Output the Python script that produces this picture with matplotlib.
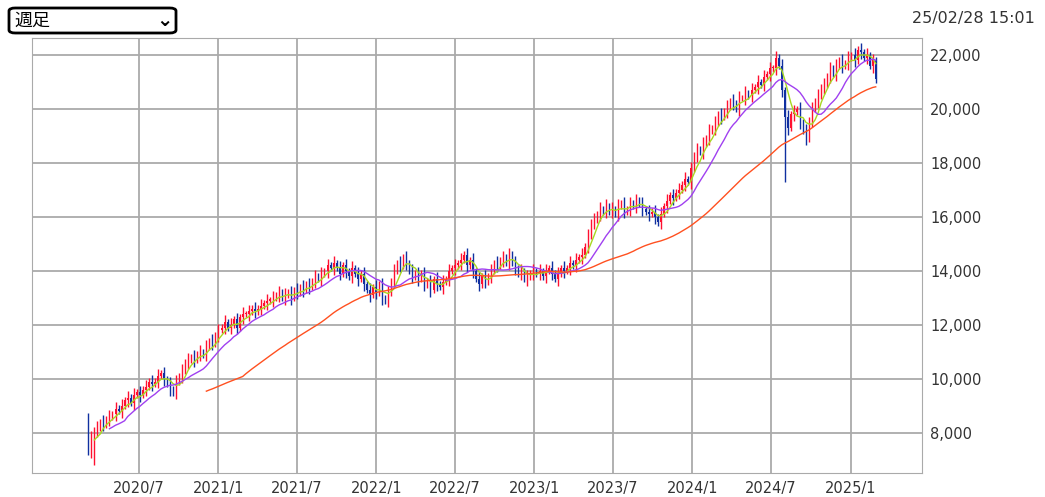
import matplotlib
matplotlib.use("Agg")
import matplotlib.pyplot as plt
import matplotlib.dates as mdates
from matplotlib.patches import FancyBboxPatch
import numpy as np
import pandas as pd

plt.rcParams['font.family'] = ['Noto Sans CJK JP', 'DejaVu Sans']

start_date = "2020-03-06"
closes = [
 # 2020 Mar-Dec
 7300, 7800, 8100,
 8200, 8400, 8300, 8500, 8600,
 8700, 8900, 8800, 9000, 9200,
 9300, 9100, 9400, 9500,
 9400, 9600, 9700, 9900, 9800,
 9900, 10100, 10200, 10000,
 9800, 9600, 9500, 9900,
 10100, 10300, 10600, 10700, 10800,
 10700, 10900, 11000, 10900,
 # 2021
 11200, 11400, 11300, 11600,
 11800, 11900, 12100, 11900,
 12000, 12200, 11900, 12300, 12400,
 12400, 12500, 12600, 12500,
 12600, 12700, 12800, 12900,
 12900, 13000, 13100, 13200, 13000,
 13100, 13200, 13000, 13300,
 13200, 13400, 13300, 13500,
 13400, 13600, 13800, 13700, 13900,
 14000, 14200, 14100, 14300,
 14100, 13900, 14200, 14000,
 13800, 14100, 13900, 13700, 13900,
 # 2022
 13500, 13300, 13100, 13400,
 13200, 13500, 13000, 12900,
 13200, 13600, 14000, 14300, 14200,
 14500, 14300, 14000, 13800, 13900,
 13700, 13900, 13500, 13600,
 13300, 13700, 13500, 13400, 13600,
 13700, 14000, 14100, 14200,
 14300, 14400, 14600, 14200, 14400,
 14000, 13700, 13500, 13800, 13600,
 13800, 14000, 14300, 14200,
 14400, 14500, 14300, 14600,
 14300, 14100, 13900, 14000, 13700,
 # 2023
 13800, 13900, 14000, 13900,
 14000, 13800, 14000, 14100,
 13900, 13700, 13900, 14100, 14000,
 14100, 14300, 14200, 14400, 14500,
 14600, 14900, 15300, 15800,
 15900, 16100, 16300, 16200, 16400,
 16200, 16300, 16100, 16400, 16500,
 16200, 16300, 16500, 16400, 16600,
 16500, 16300, 16200, 16100,
 16200, 16000, 15800, 16100, 16400,
 16600, 16800, 16700, 16900,
 17000, 17200, 17400, 17300,
 # 2024
 17800, 18300, 18500, 18400, 18700,
 18900, 19200, 19300, 19500,
 19800, 19700, 19900, 20100,
 20300, 20200, 20000, 20400,
 20400, 20600, 20500, 20700, 20800,
 21000, 20900, 21200, 21300, 21500,
 21500, 21900, 21600, 20700,
 19700, 19300, 19800, 19900, 20000,
 19500, 19200, 18900, 19600,
 20000, 20300, 20500, 20800, 20900,
 21200, 21500, 21300, 21600,
 21800, 21600, 21700, 21900,
 # 2025
 22000, 21800, 22200, 22100, 21900,
 22000, 21600, 21800, 21100,
]
wick = [120, 250]
spike_low_weeks = [2, 230]
spike_low_values = [6800, 17300]
ma_windows = [5, 13, 52]
ma_colors = ["#a8d820", "#a040f0", "#ff5020"]

dates = pd.date_range(start_date, periods=len(closes), freq="7D")
c = np.array(closes, float)
o = np.concatenate([[8600], c[:-1]])
wk = np.array([wick[i % 2] for i in range(len(c))])
hi = np.maximum(o, c) + wk
lo = np.minimum(o, c) - wk[::-1]
for i, v in zip(spike_low_weeks, spike_low_values):
    lo[i] = v

fig = plt.figure(figsize=(10.45, 4.97), dpi=100)
ax = fig.add_axes([32/1045, 1-473/497, (922-32)/1045, (473-38)/497])
x = mdates.date2num(dates)
up = c >= o
cols = np.where(up, "#ff1030", "#1030a0")
ax.vlines(x, lo, hi, colors=cols, lw=1)
ax.bar(x, np.maximum(np.abs(c-o), 40), bottom=np.minimum(o, c), width=2.2, color=cols, lw=0)
s = pd.Series(c)
for w, col, mp in zip(ma_windows, ma_colors, [3, 8, 40]):
    ax.plot(x, s.rolling(w, min_periods=mp).mean(), color=col, lw=1)

ax.set_ylim(6510, 22630)
ax.set_xlim(mdates.date2num(pd.Timestamp("2019-10-28")), mdates.date2num(pd.Timestamp("2025-06-15")))
ax.yaxis.tick_right()
ax.set_yticks(range(8000, 22001, 2000))
ax.set_yticklabels([f"{v:,}" for v in range(8000, 22001, 2000)], family="DejaVu Sans")
ticks = pd.to_datetime(["2020-07-01","2021-01-01","2021-07-01","2022-01-01","2022-07-01","2023-01-01","2023-07-01","2024-01-01","2024-07-01","2025-01-01"])
ax.set_xticks(mdates.date2num(ticks))
ax.set_xticklabels([f"{t.year}/{t.month}" for t in ticks], family="DejaVu Sans")
ax.grid(True, color="#aaaaaa", lw=1.3)
ax.set_axisbelow(True)
ax.tick_params(length=0, labelsize=10.5, colors="#333333", pad=6)
for sp in ax.spines.values():
    sp.set_color("#aaaaaa")
fig.text(1035/1045, 1-18/497, "25/02/28 15:01", ha="right", va="center", fontsize=11.5, color="#333333", family="DejaVu Sans")
box = FancyBboxPatch((9/1045, 1-33/497), (176-9)/1045, 25/497, boxstyle="round,pad=0,rounding_size=0.006",
                     transform=fig.transFigure, fill=False, ec="black", lw=2)
fig.patches.append(box)
fig.text(14/1045, 1-21/497, "週足", ha="left", va="center", fontsize=13)
fig.text(164/1045, 1-21/497, "⌄", ha="center", va="center", fontsize=14, fontweight="bold", family="DejaVu Sans")
fig.savefig("out.png", dpi=100)
